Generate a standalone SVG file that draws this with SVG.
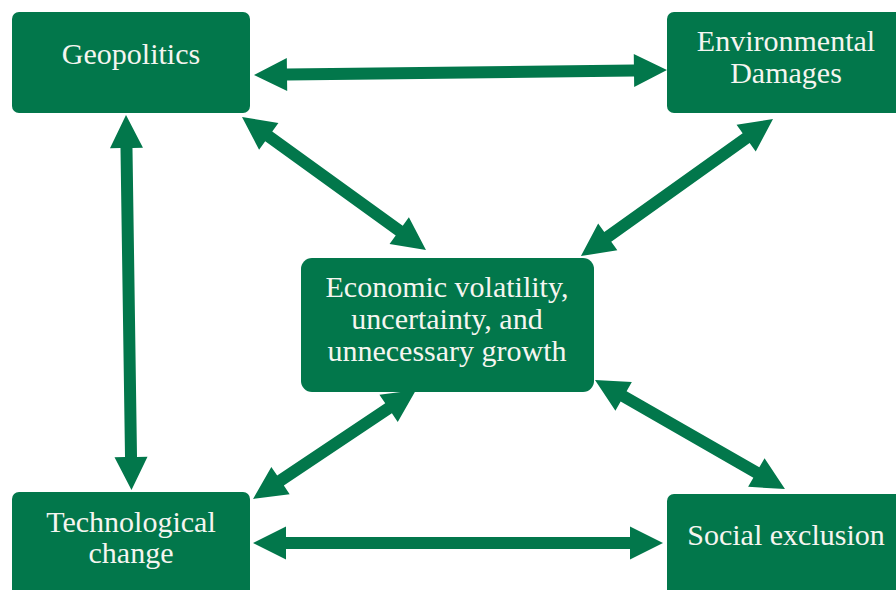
<svg xmlns="http://www.w3.org/2000/svg" width="896" height="590" viewBox="0 0 896 590">
  <style>
    .box { fill: #02774b; }
    .arrow { fill: #02774b; }
    .label { font-family: "Liberation Serif", serif; font-size: 30px; fill: #f5f5f0; text-anchor: middle; }
  </style>
  <rect width="896" height="590" fill="#ffffff"/>

  <!-- double-headed connectors: tip at (0,0), other tip at (L,0), then placed by transform -->
  <g id="connectors">
    <path class="arrow" transform="translate(254,75) rotate(-0.694)" d="M0,0 L33,-16.5 L33,-6 L380,-6 L380,-16.5 L413,0 L380,16.5 L380,6 L33,6 L33,16.5Z"/>
    <path class="arrow" transform="translate(126,115) rotate(89.16)" d="M0,0 L33,-16.5 L33,-6 L342,-6 L342,-16.5 L375,0 L342,16.5 L342,6 L33,6 L33,16.5Z"/>
    <path class="arrow" transform="translate(242,117) rotate(35.86)" d="M0,0 L33,-16.5 L33,-6 L194,-6 L194,-16.5 L227,0 L194,16.5 L194,6 L33,6 L33,16.5Z"/>
    <path class="arrow" transform="translate(773,119) rotate(144.49)" d="M0,0 L33,-16.5 L33,-6 L203,-6 L203,-16.5 L236,0 L203,16.5 L203,6 L33,6 L33,16.5Z"/>
    <path class="arrow" transform="translate(416,390) rotate(146.23)" d="M0,0 L33,-16.5 L33,-6 L163,-6 L163,-16.5 L196,0 L163,16.5 L163,6 L33,6 L33,16.5Z"/>
    <path class="arrow" transform="translate(595,380) rotate(29.84)" d="M0,0 L33,-16.5 L33,-6 L186,-6 L186,-16.5 L219,0 L186,16.5 L186,6 L33,6 L33,16.5Z"/>
    <path class="arrow" transform="translate(253,543)" d="M0,0 L33,-16.5 L33,-6 L377,-6 L377,-16.5 L410,0 L377,16.5 L377,6 L33,6 L33,16.5Z"/>
  </g>

  <g id="geopolitics">
    <rect class="box" x="12" y="12" width="238" height="101" rx="7"/>
    <text class="label" x="131" y="64">Geopolitics</text>
  </g>

  <g id="environmental-damages">
    <rect class="box" x="667" y="12" width="238" height="101" rx="7"/>
    <text class="label" x="786" y="51">Environmental</text>
    <text class="label" x="786" y="83">Damages</text>
  </g>

  <g id="economic-volatility">
    <rect class="box" x="301" y="258" width="293" height="134" rx="11"/>
    <text class="label" x="447" y="297">Economic volatility,</text>
    <text class="label" x="447" y="329">uncertainty, and</text>
    <text class="label" x="447" y="361">unnecessary growth</text>
  </g>

  <g id="technological-change">
    <rect class="box" x="12" y="492" width="238" height="110" rx="7"/>
    <text class="label" x="131" y="532">Technological</text>
    <text class="label" x="131" y="563">change</text>
  </g>

  <g id="social-exclusion">
    <rect class="box" x="667" y="494" width="238" height="110" rx="7"/>
    <text class="label" x="786" y="545">Social exclusion</text>
  </g>
</svg>
